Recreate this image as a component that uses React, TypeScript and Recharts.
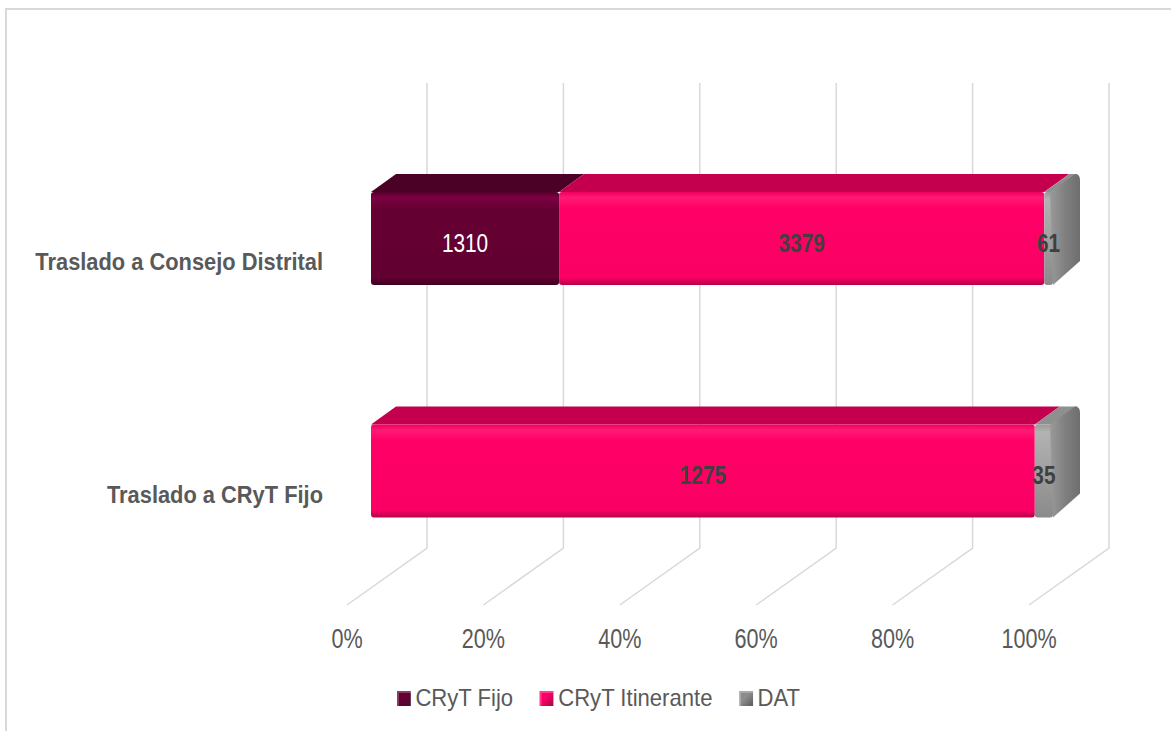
import { BarChart, Bar, XAxis, YAxis, CartesianGrid, Legend, LabelList } from "recharts";

const categories = ["Traslado a Consejo Distrital", "Traslado a CRyT Fijo"];
const fijo = [1310, 0];
const itinerante = [3379, 1275];
const dat = [61, 35];
const xTicks = [0, 0.2, 0.4, 0.6, 0.8, 1];

const data = categories.map((name, i) => ({
  name,
  fijo: fijo[i],
  itinerante: itinerante[i],
  dat: dat[i],
}));

const FONT = "'Liberation Sans', Arial, sans-serif";
const DX = 25;
const DY = 18;

// the original uses a narrow face, so squeeze the text horizontally
const NarrowText = ({ x, y, sx, children, ...rest }: any) => (
  <text transform={`translate(${x},${y}) scale(${sx},1)`} fontFamily={FONT} {...rest}>
    {children}
  </text>
);

const make3DShape = (frontId: string, top: string, sideId?: string) => (props: any) => {
  const { x, y, width, height } = props;
  if (!width || width < 0.5) return <g />;
  const topPath = `M${x},${y} L${x + DX},${y - DY} L${x + width + DX},${y - DY} L${x + width},${y} Z`;
  return (
    <g>
      <path d={topPath} fill={top} />
      <rect x={x} y={y} width={width} height={height} rx={3} fill={`url(#${frontId})`} />
      {sideId && (
        <path
          d={`M${x + width - 3},${y} L${x + width + DX - 3},${y - DY} Q${x + width + DX + 2},${y - DY} ${x + width + DX + 2},${y - DY + 6} L${x + width + DX + 2},${y + height - DY - 6} L${x + width},${y + height} Z`}
          fill={`url(#${sideId})`}
        />
      )}
    </g>
  );
};

const renderGridLine = (props: any) => {
  const { x1, index } = props;
  return (
    <path
      key={`g-${index}`}
      d={`M${x1 + 56},83 L${x1 + 56},548 L${x1 - 24},605`}
      fill="none"
      stroke="#d9d9d9"
      strokeWidth={1.5}
    />
  );
};

const XTick = (props: any) => {
  const { x, y, payload } = props;
  return (
    <NarrowText x={x - 24} y={y + 53} sx={0.8} textAnchor="middle" fontSize={27} fill="#595959">
      {`${Math.round(payload.value * 100)}%`}
    </NarrowText>
  );
};

const YTick = (props: any) => {
  const { x, y, payload } = props;
  return (
    <NarrowText x={x} y={y + 32} sx={0.95} textAnchor="end" fontSize={23} fontWeight="bold" fill="#595959">
      {payload.value}
    </NarrowText>
  );
};

const makeLabel = (color: string, bold: boolean) => (props: any) => {
  const { x, y, width, height, value } = props;
  if (!value) return null;
  return (
    <NarrowText
      x={x + width / 2}
      y={y + height / 2 + 13}
      sx={bold ? 0.8 : 0.8}
      textAnchor="middle"
      fontSize={26}
      fontWeight={bold ? "bold" : "normal"}
      fill={color}
    >
      {value}
    </NarrowText>
  );
};

const renderLegend = (props: any) => {
  const { payload } = props;
  return (
    <div
      style={{
        display: "flex",
        alignItems: "center",
        fontFamily: FONT,
        fontSize: 24,
        color: "#595959",
        position: "absolute",
        left: 397,
        top: 0,
        whiteSpace: "nowrap",
        transform: "scaleX(0.92)",
        transformOrigin: "0 50%",
      }}
    >
      {(payload || []).map((p: any, i: number) => (
        <div key={i} style={{ display: "flex", alignItems: "center", marginRight: 29 }}>
          <span
            style={{
              width: 15,
              height: 15,
              display: "inline-block",
              marginRight: 5,
              background: `linear-gradient(135deg, ${p.color} 0%, ${p.color} 45%, #222 160%)`,
              boxShadow: "inset 2px 2px 0 rgba(255,255,255,0.25)",
            }}
          />
          <span>{p.value}</span>
        </div>
      ))}
    </div>
  );
};

export default function App() {
  return (
    <div style={{ position: "fixed", left: 0, top: 0, width: 1171, height: 731, overflow: "hidden", background: "#fff" }}>
      <div
        style={{
          position: "absolute",
          left: 5,
          top: 8,
          width: 1200,
          height: 760,
          borderLeft: "2px solid #d9d9d9",
          borderTop: "2px solid #d9d9d9",
        }}
      />
      <div style={{ position: "absolute", left: 0, top: 0 }}>
        <BarChart
          width={1171}
          height={731}
          data={data}
          layout="vertical"
          stackOffset="expand"
          margin={{ top: 122, right: 118, bottom: 84, left: 31 }}
        >
          <defs>
            <linearGradient id="gFijo" x1="0" y1="0" x2="0" y2="1">
              <stop offset="0%" stopColor="#55002a" />
              <stop offset="6%" stopColor="#7d0043" />
              <stop offset="18%" stopColor="#660033" />
              <stop offset="92%" stopColor="#620031" />
              <stop offset="100%" stopColor="#3f001f" />
            </linearGradient>
            <linearGradient id="gItin" x1="0" y1="0" x2="0" y2="1">
              <stop offset="0%" stopColor="#f00060" />
              <stop offset="6%" stopColor="#ff1a75" />
              <stop offset="18%" stopColor="#ff0066" />
              <stop offset="92%" stopColor="#fa0064" />
              <stop offset="100%" stopColor="#b8004a" />
            </linearGradient>
            <linearGradient id="gDat" x1="0" y1="0" x2="0" y2="1">
              <stop offset="0%" stopColor="#999" />
              <stop offset="8%" stopColor="#b3b3b3" />
              <stop offset="50%" stopColor="#a0a0a0" />
              <stop offset="100%" stopColor="#8a8a8a" />
            </linearGradient>
            <linearGradient id="gDatSide" x1="0" y1="0" x2="1" y2="0">
              <stop offset="0%" stopColor="#9a9a9a" />
              <stop offset="50%" stopColor="#808080" />
              <stop offset="100%" stopColor="#6e6e6e" />
            </linearGradient>
          </defs>
          <CartesianGrid horizontal={false} vertical={renderGridLine} />
          <XAxis
            type="number"
            domain={[0, 1]}
            ticks={xTicks}
            axisLine={false}
            tickLine={false}
            height={60}
            tick={<XTick />}
          />
          <YAxis
            type="category"
            dataKey="name"
            width={340}
            axisLine={false}
            tickLine={false}
            tickSize={0}
            tickMargin={48}
            tick={<YTick />}
          />
          <Legend
            verticalAlign="middle"
            layout="horizontal"
            wrapperStyle={{ top: 684, left: 0, width: 1171, height: 32 }}
            content={renderLegend}
          />
          <Bar dataKey="fijo" name="CRyT Fijo" stackId="a" fill="#660033" barSize={93} isAnimationActive={false} shape={make3DShape("gFijo", "#4b0026")}>
            <LabelList dataKey="fijo" content={makeLabel("#ffffff", false)} />
          </Bar>
          <Bar dataKey="itinerante" name="CRyT Itinerante" stackId="a" fill="#ff0066" barSize={93} isAnimationActive={false} shape={make3DShape("gItin", "#c4004e")}>
            <LabelList dataKey="itinerante" content={makeLabel("#404040", true)} />
          </Bar>
          <Bar dataKey="dat" name="DAT" stackId="a" fill="#8c8c8c" barSize={93} isAnimationActive={false} shape={make3DShape("gDat", "#8f8f8f", "gDatSide")}>
            <LabelList dataKey="dat" content={makeLabel("#404040", true)} />
          </Bar>
        </BarChart>
      </div>
    </div>
  );
}
